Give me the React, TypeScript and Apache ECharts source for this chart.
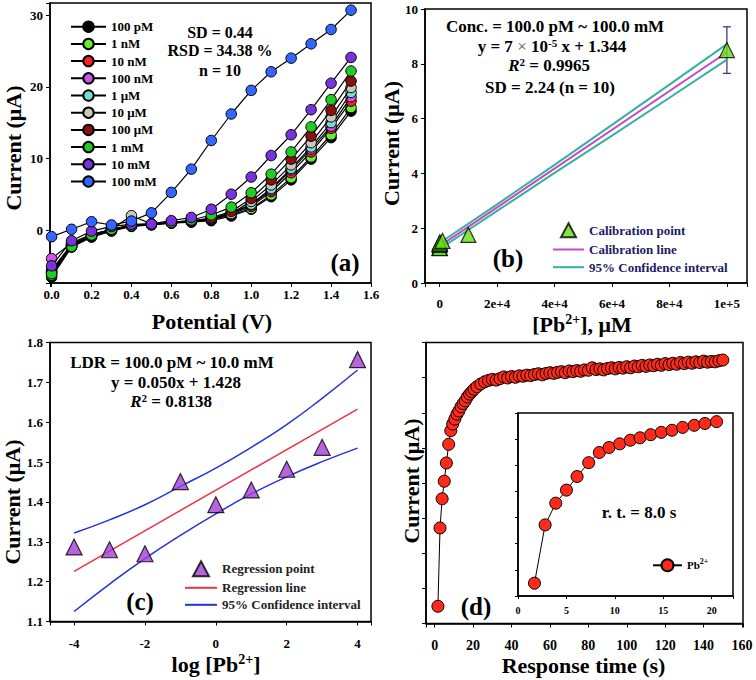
import React, { useEffect, useRef } from 'react';
import * as echarts from 'echarts';

const FONT = '"Liberation Serif", "Times New Roman", serif';

// ---------- Panel (a) ----------
const potentials = [0, 0.1, 0.2, 0.3, 0.4, 0.5, 0.6, 0.7, 0.8, 0.9, 1.0, 1.1, 1.2, 1.3, 1.4, 1.5];
const concNames = ['100 pM', '1 nM', '10 nM', '100 nM', '1 μM', '10 μM', '100 μM', '1 mM', '10 mM', '100 mM'];
const concColors = ['#000000', '#66ee33', '#ff2222', '#cc55ee', '#77ddcc', '#c9c9bb', '#8b1111', '#22cc22', '#7733dd', '#3366ff'];
const cur100pM = [-6.6, -2.4, -1.0, -0.15, 0.5, 0.7, 0.95, 1.1, 1.3, 1.95, 2.9, 4.65, 7.0, 9.9, 12.9, 16.6];
const cur1nM = [-6.3, -2.3, -0.9, -0.1, 0.55, 0.75, 1.0, 1.15, 1.45, 2.1, 3.0, 4.9, 7.3, 10.2, 13.3, 17.1];
const cur10nM = [-6.0, -2.2, -0.85, 0.0, 0.6, 0.8, 1.0, 1.2, 1.5, 2.2, 3.3, 5.35, 8.0, 10.9, 14.2, 18.0];
const cur100nM = [-4.0, -1.8, -0.6, 0.1, 0.7, 0.85, 1.05, 1.25, 1.6, 2.4, 3.5, 5.6, 8.4, 11.3, 14.5, 18.6];
const cur1uM = [-5.8, -2.1, -0.8, 0.05, 0.65, 0.8, 1.05, 1.2, 1.55, 2.3, 3.6, 5.8, 8.6, 11.6, 15.0, 19.2];
const cur10uM = [-5.6, -2.0, -0.7, 0.1, 2.0, 0.85, 1.05, 1.25, 1.6, 2.3, 4.0, 6.3, 9.1, 12.2, 15.8, 19.9];
const cur100uM = [-5.9, -2.1, -0.75, 0.05, 0.7, 0.8, 1.05, 1.25, 1.7, 2.6, 4.4, 7.0, 9.9, 13.1, 16.7, 20.8];
const cur1mM = [-6.1, -2.3, -0.7, 0.1, 0.6, 0.85, 1.05, 1.4, 2.1, 3.2, 5.2, 7.8, 10.9, 14.4, 18.2, 22.2];
const cur10mM = [-5.0, -1.5, -0.15, 0.5, 0.8, 0.85, 1.3, 1.75, 2.9, 5.0, 7.4, 10.4, 13.3, 16.8, 20.5, 24.1];
const cur100mM = [-0.93, 0.1, 1.16, 0.7, 1.25, 2.4, 5.25, 8.5, 12.5, 16.2, 19.5, 22.1, 24.0, 26.0, 28.0, 30.7];
const currentsA = [cur100pM, cur1nM, cur10nM, cur100nM, cur1uM, cur10uM, cur100uM, cur1mM, cur10mM, cur100mM];

// ---------- Panel (b) ----------
const calibConc = [0.0001, 0.001, 0.01, 0.1, 1, 10, 100, 1000, 10000, 100000];
const calibCurrent = [1.285, 1.28, 1.27, 1.45, 1.39, 1.43, 1.48, 1.535, 1.755, 8.5];
const errConc = [100000];
const errLow = [7.65];
const errHigh = [9.35];
const calibLineX = [0, 100000];
const calibLineY = [1.344, 8.42];
const bandBX = [0, 20000, 40000, 60000, 80000, 100000];
const bandBUpper = [1.46, 2.87, 4.31, 5.77, 7.24, 8.72];
const bandBLower = [1.24, 2.63, 4.02, 5.38, 6.76, 8.15];

// ---------- Panel (c) ----------
const logConc = [-4, -3, -2, -1, 0, 1, 2, 3, 4];
const regCurrent = [1.287, 1.28, 1.27, 1.451, 1.393, 1.43, 1.482, 1.537, 1.757];
const regLineX = [-4, 4];
const regLineY = [1.226, 1.633];
const confCUpper = [1.322, 1.355, 1.393, 1.439, 1.485, 1.537, 1.594, 1.66, 1.731];
const confCLower = [1.125, 1.194, 1.258, 1.316, 1.37, 1.42, 1.463, 1.501, 1.535];

// ---------- Panel (d) ----------
const respTime = [1.7, 2.8, 3.9, 5.0, 6.1, 7.3, 8.4, 9.4, 10.5, 11.6, 12.6, 13.7, 14.8, 15.9, 17.0, 18.2, 19.3, 20.5,
  22, 24, 26, 28, 30, 32, 34, 36, 38, 40, 42, 44, 46, 48, 50, 52, 54, 56, 58, 60, 62, 64, 66, 68, 70, 72, 74, 76, 78, 80,
  82, 84, 86, 88, 90, 92, 94, 96, 98, 100, 102, 104, 106, 108, 110, 112, 114, 116, 118, 120, 122, 124, 126, 128, 130,
  132, 134, 136, 138, 140, 142, 144, 146, 148, 150];
const respCurrent = [0.49, 2.72, 3.55, 4.05, 4.57, 5.1, 5.49, 5.68, 5.82, 5.96, 6.05, 6.17, 6.26, 6.34, 6.45, 6.53, 6.6, 6.67,
  6.74, 6.82, 6.88, 6.92, 6.95, 6.93, 6.97, 7.02, 6.99, 7.03,
  7.01, 7.05, 7.04, 7.07, 7.06, 7.09, 7.11, 7.08, 7.12, 7.14,
  7.12, 7.15, 7.17, 7.14, 7.19, 7.17, 7.2, 7.18, 7.22, 7.21,
  7.28, 7.23, 7.25, 7.22, 7.26, 7.28, 7.25, 7.29, 7.27, 7.31,
  7.28, 7.33, 7.31, 7.35, 7.32, 7.36, 7.34, 7.38, 7.35, 7.4,
  7.37, 7.41, 7.38, 7.43, 7.4, 7.44, 7.41, 7.45, 7.43, 7.47,
  7.44, 7.46, 7.45, 7.48, 7.5];
const insetCount = 18;

const isMult = (v: number, s: number) => Math.abs(v / s - Math.round(v / s)) < 1e-6;
const pairs = (xs: number[], ys: number[]) => xs.map((x, i) => [x, ys[i]]);

const labelBase = { color: '#000', fontFamily: FONT, fontWeight: 'bold', fontSize: 13 };

function axis(gridIndex: number, extra: any) {
  const { axisLabel, axisTick, ...rest } = extra;
  return {
    type: 'value',
    gridIndex,
    axisLine: { show: true, onZero: false, lineStyle: { color: '#000', width: 1.5 } },
    axisTick: { show: true, length: 4, lineStyle: { color: '#000', width: 1 }, ...(axisTick || {}) },
    splitLine: { show: false },
    axisLabel: { ...labelBase, ...(axisLabel || {}) },
    ...rest,
  };
}

const gridBase = { show: true, borderColor: '#000', borderWidth: 1.5, containLabel: false, outerBoundsMode: 'none' };

function txt(text: string, x: number, y: number, size: number, extra: any = {}) {
  return {
    type: 'text', x, y, z: 100, silent: true,
    ...extra,
    style: {
      text, fill: '#000', fontFamily: FONT, fontWeight: 'bold', fontSize: size,
      align: 'center', verticalAlign: 'middle',
    },
  };
}

function richTxt(text: string, x: number, y: number, size: number, supSize: number, extra: any = {}) {
  return {
    type: 'text', x, y, z: 100, silent: true,
    ...extra,
    style: {
      text, fill: '#000', align: 'center', verticalAlign: 'middle',
      rich: {
        n: { fontFamily: FONT, fontWeight: 'bold', fontSize: size, lineHeight: size + 2, fill: '#000' },
        i: { fontFamily: FONT, fontWeight: 'bold', fontStyle: 'italic', fontSize: size, lineHeight: size + 2, fill: '#000' },
        g: { fontFamily: FONT, fontWeight: 'normal', fontSize: size, lineHeight: size + 2, fill: '#555' },
        s: { fontFamily: FONT, fontWeight: 'bold', fontSize: supSize, lineHeight: supSize, verticalAlign: 'top', fill: '#000' },
      },
    },
  };
}

const sci = (v: number) => {
  if (!isMult(v, 20000)) return '';
  if (v === 0) return '0';
  const e = Math.floor(Math.log10(v) + 1e-9);
  const m = Math.round(v / Math.pow(10, e));
  return `${m}e+${e}`;
};

// legend triangle icons padded to the legend item box so they keep a triangle's shape
const triIconB = 'path://M0,0 M31,14 M15.5,0 L23,14 L8,14 Z';
const triIconC = 'path://M0,0 M32,15 M16,0 L24,15 L8,15 Z';

function buildOption() {
  const series: any[] = [];

  // (a)
  currentsA.forEach((arr, k) => {
    series.push({
      type: 'line', name: concNames[k], xAxisIndex: 0, yAxisIndex: 0, z: 2 + k,
      data: pairs(potentials, arr),
      symbol: 'circle', symbolSize: 10.5,
      itemStyle: { color: concColors[k], borderColor: '#000', borderWidth: 1 },
      lineStyle: { color: '#000', width: 1.2 },
    });
  });

  // (b)
  series.push({
    type: 'custom', name: 'errbar', xAxisIndex: 1, yAxisIndex: 1, z: 3, silent: true,
    data: errConc.map((x, i) => [x, errLow[i], errHigh[i]]),
    encode: { x: 0, y: [1, 2] },
    renderItem: (params: any, api: any) => {
      const x = api.value(0);
      const lo = api.coord([x, api.value(1)]);
      const hi = api.coord([x, api.value(2)]);
      const w = 4;
      const st = { stroke: '#3b3b7a', lineWidth: 1.3 };
      return {
        type: 'group',
        children: [
          { type: 'line', shape: { x1: lo[0], y1: lo[1], x2: hi[0], y2: hi[1] }, style: st },
          { type: 'line', shape: { x1: lo[0] - w, y1: lo[1], x2: lo[0] + w, y2: lo[1] }, style: st },
          { type: 'line', shape: { x1: hi[0] - w, y1: hi[1], x2: hi[0] + w, y2: hi[1] }, style: st },
        ],
      };
    },
  });
  series.push({
    type: 'line', name: '95% Confidence interval', xAxisIndex: 1, yAxisIndex: 1, z: 4,
    data: pairs(bandBX, bandBUpper), symbol: 'none', lineStyle: { color: '#33b39a', width: 2 },
    itemStyle: { color: '#33b39a' },
  });
  series.push({
    type: 'line', name: '95% Confidence interval', xAxisIndex: 1, yAxisIndex: 1, z: 4,
    data: pairs(bandBX, bandBLower), symbol: 'none', lineStyle: { color: '#33b39a', width: 2 },
    itemStyle: { color: '#33b39a' },
  });
  series.push({
    type: 'line', name: 'Calibration line', xAxisIndex: 1, yAxisIndex: 1, z: 5,
    data: pairs(calibLineX, calibLineY), symbol: 'none', lineStyle: { color: '#cc44cc', width: 2 },
    itemStyle: { color: '#cc44cc' },
  });
  series.push({
    type: 'scatter', name: 'Calibration point', xAxisIndex: 1, yAxisIndex: 1, z: 8,
    data: pairs(calibConc, calibCurrent), symbol: 'triangle', symbolSize: 15,
    itemStyle: { color: '#66dd11', borderColor: '#000', borderWidth: 1.2 },
  });

  // (c)
  series.push({
    type: 'line', name: '95% Confidence interval ', xAxisIndex: 2, yAxisIndex: 2, z: 4, smooth: true,
    data: pairs(logConc, confCUpper), symbol: 'none', lineStyle: { color: '#2233dd', width: 1.5 },
    itemStyle: { color: '#2233dd' },
  });
  series.push({
    type: 'line', name: '95% Confidence interval ', xAxisIndex: 2, yAxisIndex: 2, z: 4, smooth: true,
    data: pairs(logConc, confCLower), symbol: 'none', lineStyle: { color: '#2233dd', width: 1.5 },
    itemStyle: { color: '#2233dd' },
  });
  series.push({
    type: 'line', name: 'Regression line', xAxisIndex: 2, yAxisIndex: 2, z: 5,
    data: pairs(regLineX, regLineY), symbol: 'none', lineStyle: { color: '#ee3344', width: 1.5 },
    itemStyle: { color: '#ee3344' },
  });
  series.push({
    type: 'scatter', name: 'Regression point', xAxisIndex: 2, yAxisIndex: 2, z: 8,
    data: pairs(logConc, regCurrent), symbol: 'triangle', symbolSize: 16,
    itemStyle: { color: '#a23fd6', borderColor: '#000', borderWidth: 1.2 },
  });

  // (d)
  series.push({
    type: 'line', name: 'Response', xAxisIndex: 3, yAxisIndex: 3, z: 5,
    data: pairs(respTime, respCurrent), symbol: 'circle', symbolSize: 12,
    itemStyle: { color: '#ff2a1a', borderColor: '#000', borderWidth: 1 },
    lineStyle: { color: '#000', width: 1 },
  });
  series.push({
    type: 'line', name: 'Pb2+', xAxisIndex: 4, yAxisIndex: 4, z: 12,
    data: pairs(respTime.slice(0, insetCount), respCurrent.slice(0, insetCount)), symbol: 'circle', symbolSize: 12,
    itemStyle: { color: '#ff2a1a', borderColor: '#000', borderWidth: 1 },
    lineStyle: { color: '#000', width: 1 },
  });

  const legendText = { fontFamily: FONT, fontWeight: 'bold', fontSize: 13, color: '#000' };

  return {
    animation: false,
    backgroundColor: '#fff',
    textStyle: { fontFamily: FONT },
    grid: [
      { ...gridBase, left: 50, top: 3, width: 321, height: 280 },
      { ...gridBase, left: 425, top: 9, width: 322, height: 274 },
      { ...gridBase, left: 50, top: 342.5, width: 321, height: 279 },
      { ...gridBase, left: 426, top: 342.5, width: 317, height: 281 },
      { ...gridBase, left: 518, top: 413, width: 215, height: 183, backgroundColor: '#fff', z: 10 },
    ],
    xAxis: [
      axis(0, { min: -0.008, max: 1.6, splitNumber: 8, axisLabel: { margin: 5, formatter: (v: number) => (isMult(v, 0.2) ? v.toFixed(1) : '') } }),
      axis(1, { min: -5100, max: 107000, splitNumber: 5, axisLabel: { margin: 14, formatter: sci } }),
      axis(2, { min: -4.68, max: 4.38, splitNumber: 5, axisLabel: { margin: 15, formatter: (v: number) => (isMult(v, 2) ? String(Math.round(v)) : '') } }),
      axis(3, { min: -4.5, max: 160.5, splitNumber: 8, axisLabel: { margin: 15, fontSize: 14, formatter: (v: number) => (isMult(v, 20) ? String(Math.round(v)) : '') } }),
      axis(4, { min: 0, max: 22.2, splitNumber: 4, z: 10, axisTick: { length: 3 }, axisLabel: { margin: 9, fontSize: 10, formatter: (v: number) => (isMult(v, 5) ? String(Math.round(v)) : '') } }),
    ],
    yAxis: [
      axis(0, { min: -7.4, max: 31.7, splitNumber: 4, axisLabel: { margin: 7, formatter: (v: number) => (isMult(v, 10) ? String(Math.round(v)) : '') } }),
      axis(1, { min: 0, max: 10, interval: 2, axisLabel: { margin: 7, formatter: (v: number) => String(Math.round(v)) } }),
      axis(2, { min: 1.1, max: 1.8, interval: 0.1, axisLabel: { margin: 7, formatter: (v: number) => v.toFixed(1) } }),
      axis(3, { min: 0, max: 8, interval: 1, axisLabel: { show: false } }),
      axis(4, { min: 0, max: 7, interval: 1, z: 10, axisTick: { length: 3 }, axisLabel: { show: false } }),
    ],
    legend: [
      {
        data: concNames, orient: 'vertical', left: 70, top: 20.2, itemWidth: 35, itemHeight: 13, itemGap: 4.2,
        padding: 0, selectedMode: false, textStyle: legendText,
      },
      {
        data: [
          { name: 'Calibration point', icon: triIconB },
          { name: 'Calibration line', itemStyle: { opacity: 0 } },
          { name: '95% Confidence interval', itemStyle: { opacity: 0 } },
        ],
        orient: 'vertical', left: 552, top: 222.3, itemWidth: 31, itemHeight: 14, itemGap: 4.7,
        padding: 0, selectedMode: false, textStyle: { ...legendText, color: '#1b1b66' },
      },
      {
        data: [
          { name: 'Regression point', icon: triIconC },
          { name: 'Regression line', itemStyle: { opacity: 0 } },
          { name: '95% Confidence interval ', itemStyle: { opacity: 0 } },
        ],
        orient: 'vertical', left: 184, top: 560.3, itemWidth: 32, itemHeight: 15, itemGap: 4,
        padding: 0, selectedMode: false, textStyle: { ...legendText, color: '#222' },
        formatter: (name: string) => name.trim(),
      },
      {
        data: ['Pb2+'], orient: 'vertical', left: 652, top: 557.8, itemWidth: 29, itemHeight: 15,
        padding: 0, selectedMode: false, z: 20,
        formatter: () => '{a|Pb}{s|2+}',
        textStyle: {
          ...legendText, fontSize: 11,
          rich: {
            a: { fontFamily: FONT, fontWeight: 'bold', fontSize: 11, color: '#000', lineHeight: 15 },
            s: { fontFamily: FONT, fontWeight: 'bold', fontSize: 8, color: '#000', lineHeight: 8, verticalAlign: 'top' },
          },
        },
      },
    ],
    graphic: [
      // (a)
      txt('SD = 0.44', 220, 32, 16),
      txt('RSD = 34.38 %', 220, 50, 16),
      txt('n = 10', 220, 70, 16),
      txt('(a)', 345, 262, 25),
      txt('Potential (V)', 212, 321, 22),
      txt('Current (μA)', 13, 148, 22, { rotation: Math.PI / 2 }),
      // (b)
      txt('Conc. = 100.0 pM ~ 100.0 mM', 555, 26.5, 17),
      richTxt('{n|y = 7 }{g|×}{n| 10}{s|-5}{n| x + 1.344}', 552, 46.5, 17, 11),
      richTxt('{i|R}{s|2}{n| = 0.9965}', 549, 65.5, 17, 11),
      txt('SD = 2.24 (n = 10)', 550, 87, 17),
      txt('(b)', 508, 258, 25),
      richTxt('{n|[Pb}{s|2+}{n|], μM}', 582, 324.5, 22, 14),
      txt('Current (μA)', 391, 143.5, 22, { rotation: Math.PI / 2 }),
      // (c)
      txt('LDR = 100.0 pM ~ 10.0 mM', 172, 362.3, 17),
      txt('y = 0.050x + 1.428', 176, 382.7, 17),
      richTxt('{i|R}{s|2}{n| = 0.8138}', 171, 401.7, 17, 11),
      txt('(c)', 140, 601.7, 25),
      richTxt('{n|log [Pb}{s|2+}{n|]}', 216, 664.5, 22, 14),
      txt('Current (μA)', 12, 502, 22, { rotation: Math.PI / 2 }),
      // (d)
      txt('r. t. = 8.0 s', 639, 512.7, 17),
      txt('(d)', 476, 606, 25),
      txt('Response time (s)', 583.5, 665.5, 22),
      txt('Current (μA)', 411, 481, 22, { rotation: Math.PI / 2 }),
    ],
    series,
  };
}

export default function App() {
  const ref = useRef<HTMLDivElement>(null);
  useEffect(() => {
    document.body.style.margin = '0';
    if (!ref.current) return;
    const chart = echarts.init(ref.current, undefined, { renderer: 'svg' });
    chart.setOption(buildOption() as any);
    return () => chart.dispose();
  }, []);
  return <div ref={ref} style={{ width: 756, height: 680 }} />;
}
